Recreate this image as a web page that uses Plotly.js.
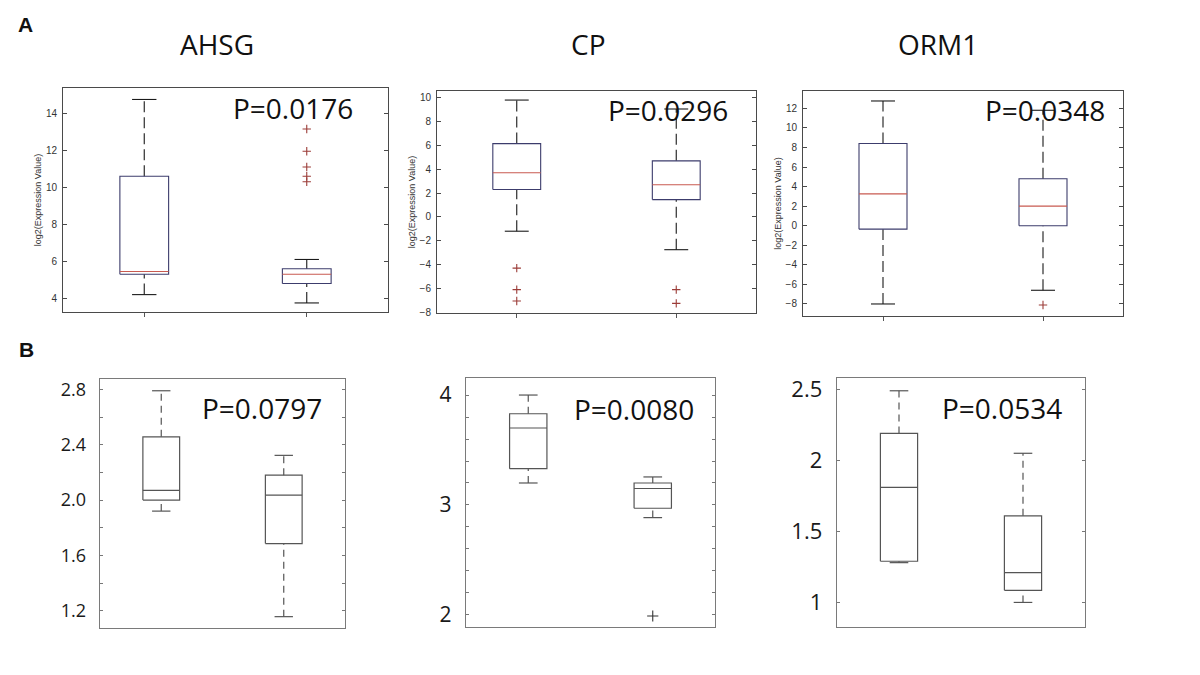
<!DOCTYPE html>
<html>
<head>
<meta charset="utf-8">
<script src="https://cdn.plot.ly/plotly-3.0.1.min.js"></script>
<style>html,body{margin:0;padding:0;background:#fff;}#chart{width:1200px;height:675px;}</style>
</head>
<body>
<div id="chart"></div>
<script>
// ---------- DATA ----------
const genes = ["AHSG", "CP", "ORM1"];
const panelLetters = ["A", "B"];
const groupPositions = [1, 2];
const pValuesA = ["P=0.0176", "P=0.0296", "P=0.0348"];
const pValuesB = ["P=0.0797", "P=0.0080", "P=0.0534"];
const yAxisTitleA = "log2(Expression Value)";

// Panel A (per gene: [group1, group2])
const aLowerWhisker = [[4.2, 3.75], [-1.2, -2.75], [-8.0, -6.6]];
const aQ1           = [[5.3, 4.8], [2.3, 1.45], [-0.35, 0.0]];
const aMedian       = [[5.45, 5.3], [3.7, 2.7], [3.25, 2.0]];
const aQ3           = [[10.6, 5.6], [6.15, 4.7], [8.4, 4.8]];
const aUpperWhisker = [[14.75, 6.1], [9.8, 9.05], [12.75, 11.8]];
const aOutliers     = [[[], [13.15, 11.95, 11.1, 10.6, 10.3]], [[-4.3, -6.1, -7.05], [-6.1, -7.25]], [[], [-8.1]]];

// Panel B (per gene: [group1, group2])
const bLowerWhisker = [[1.92, 1.157], [3.2, 2.885], [1.28, 1.0]];
const bQ1           = [[2.0, 1.685], [3.33, 2.97], [1.29, 1.085]];
const bMedian       = [[2.07, 2.035], [3.70, 3.15], [1.81, 1.21]];
const bQ3           = [[2.457, 2.18], [3.83, 3.2], [2.19, 1.61]];
const bUpperWhisker = [[2.79, 2.323], [4.0, 3.255], [2.49, 2.05]];
const bOutliers     = [[[], []], [[], [1.99]], [[], []]];

// ---------- STYLE / LAYOUT ----------
const W = 1200, H = 675;
const px = v => v / W;
const py = v => 1 - v / H;

const BOX_HALF = 0.15, CAP_HALF = 0.075;

const domainsA = [
  {x: [63, 388], y: [88, 312], range: [3.26, 15.37]},
  {x: [437, 756], y: [91, 313], range: [-8.06, 10.56]},
  {x: [803, 1123], y: [91, 316], range: [-9.23, 13.77]}
];
const domainsB = [
  {x: [100, 345], y: [379, 628], range: [1.075, 2.875], tick0: 1.2, dtick: 0.4, minor: 0.2, fmt: ".1f", fs: 18},
  {x: [466, 715], y: [378, 627], range: [1.89, 4.155], tick0: 2, dtick: 1, minor: 0.2, fmt: "", fs: 21},
  {x: [837, 1085], y: [378, 627], range: [0.827, 2.58], tick0: 1, dtick: 0.5, minor: null, fmt: "", fs: 22}
];

const traces = [];
const layout = {
  width: W, height: H,
  margin: {l: 0, r: 0, t: 0, b: 0},
  paper_bgcolor: "#ffffff",
  plot_bgcolor: "#ffffff",
  showlegend: false,
  annotations: [],
  font: {family: "Open Sans, Noto Sans, sans-serif", color: "#111"}
};

function addBoxes(axisIdx, lw, q1, med, q3, uw, outl, st) {
  const xa = "x" + (axisIdx === 1 ? "" : axisIdx);
  const ya = "y" + (axisIdx === 1 ? "" : axisIdx);
  const bx = [], by = [], mx = [], my = [], wx = [], wy = [], cx = [], cy = [], ox = [], oy = [];
  groupPositions.forEach((p, g) => {
    bx.push(p - BOX_HALF, p + BOX_HALF, p + BOX_HALF, p - BOX_HALF, p - BOX_HALF, null);
    by.push(q1[g], q1[g], q3[g], q3[g], q1[g], null);
    mx.push(p - BOX_HALF, p + BOX_HALF, null);
    my.push(med[g], med[g], null);
    wx.push(p, p, null, p, p, null);
    wy.push(q3[g], uw[g], null, lw[g], q1[g], null);
    cx.push(p - CAP_HALF, p + CAP_HALF, null, p - CAP_HALF, p + CAP_HALF, null);
    cy.push(uw[g], uw[g], null, lw[g], lw[g], null);
    outl[g].forEach(v => { ox.push(p); oy.push(v); });
  });
  traces.push({type: "scatter", mode: "lines", x: wx, y: wy, xaxis: xa, yaxis: ya,
    line: {color: st.whisker, width: st.lw, dash: st.dash}, hoverinfo: "skip"});
  traces.push({type: "scatter", mode: "lines", x: cx, y: cy, xaxis: xa, yaxis: ya,
    line: {color: st.cap, width: st.lw}, hoverinfo: "skip"});
  traces.push({type: "scatter", mode: "lines", x: bx, y: by, xaxis: xa, yaxis: ya,
    line: {color: st.box, width: st.lw}, hoverinfo: "skip"});
  traces.push({type: "scatter", mode: "lines", x: mx, y: my, xaxis: xa, yaxis: ya,
    line: {color: st.median, width: st.lw}, hoverinfo: "skip"});
  if (ox.length) {
    traces.push({type: "scatter", mode: "markers", x: ox, y: oy, xaxis: xa, yaxis: ya,
      marker: {symbol: "cross-thin-open", size: st.msize, color: st.outlier, line: {color: st.outlier, width: 1.1}},
      hoverinfo: "skip"});
  }
}

const styleA = {box: "#3c3c6c", median: "#c85a50", whisker: "#1a1a1a", cap: "#1a1a1a",
  outlier: "#9c3c38", lw: 1.1, dash: "11px,5px", msize: 6};
const styleB = {box: "#555555", median: "#555555", whisker: "#555555", cap: "#555555",
  outlier: "#333333", lw: 1.2, dash: "7px,5px", msize: 8};

genes.forEach((gene, i) => {
  const idx = i + 1;
  const d = domainsA[i];
  const k = idx === 1 ? "" : idx;
  layout["xaxis" + k] = {
    domain: [px(d.x[0]), px(d.x[1])], anchor: "y" + k, range: [0.5, 2.5],
    showgrid: false, zeroline: false, showline: true, mirror: true, linecolor: "#4a4a4a", linewidth: 1,
    tickvals: groupPositions, ticktext: ["", ""], ticks: "outside", ticklen: 4, tickcolor: "#555",
    fixedrange: true
  };
  layout["yaxis" + k] = {
    domain: [py(d.y[1]), py(d.y[0])], anchor: "x" + k, range: d.range,
    showgrid: false, zeroline: false, showline: true, mirror: "ticks", linecolor: "#4a4a4a", linewidth: 1,
    dtick: 2, tick0: 0, ticks: "inside", ticklen: 4, tickcolor: "#4a4a4a",
    tickfont: {family: "Liberation Sans, Arial, sans-serif", size: 10, color: "#333"},
    ticklabelstandoff: 3,
    title: {text: yAxisTitleA, font: {family: "Liberation Sans, Arial, sans-serif", size: 9, color: "#333"}, standoff: 2},
    fixedrange: true
  };
  addBoxes(idx, aLowerWhisker[i], aQ1[i], aMedian[i], aQ3[i], aUpperWhisker[i], aOutliers[i], styleA);
});

genes.forEach((gene, i) => {
  const idx = i + 4;
  const d = domainsB[i];
  const k = idx;
  layout["xaxis" + k] = {
    domain: [px(d.x[0]), px(d.x[1])], anchor: "y" + k, range: [0.5, 2.5],
    showgrid: false, zeroline: false, showline: true, mirror: true, linecolor: "#7a7a7a", linewidth: 1.3,
    showticklabels: false, ticks: "", fixedrange: true
  };
  const ya = {
    domain: [py(d.y[1]), py(d.y[0])], anchor: "x" + k, range: d.range,
    showgrid: false, zeroline: false, showline: true, mirror: "ticks", linecolor: "#7a7a7a", linewidth: 1.3,
    tick0: d.tick0, dtick: d.dtick, ticks: "inside", ticklen: 3, tickcolor: "#777",
    tickfont: {family: "Open Sans, Noto Sans, sans-serif", size: d.fs, color: "#1a1a1a"},
    ticklabelstandoff: 9,
    fixedrange: true
  };
  if (d.fmt) ya.tickformat = d.fmt;
  if (d.minor) ya.minor = {dtick: d.minor, tick0: d.tick0, ticks: "inside", ticklen: 3, tickcolor: "#777", showgrid: false};
  layout["yaxis" + k] = ya;
  addBoxes(idx, bLowerWhisker[i], bQ1[i], bMedian[i], bQ3[i], bUpperWhisker[i], bOutliers[i], styleB);
});

// ---------- ANNOTATIONS ----------
const titlePos = [[217, 44], [588, 44], [938, 44]];
genes.forEach((g, i) => {
  layout.annotations.push({text: g, xref: "paper", yref: "paper", x: px(titlePos[i][0]), y: py(titlePos[i][1]),
    xanchor: "center", yanchor: "middle", showarrow: false,
    font: {family: "Open Sans, Noto Sans, sans-serif", size: 28, color: "#111"}});
});
const pPosA = [[293, 108], [668, 110], [1045, 110]];
const pPosB = [[262, 408], [634, 409], [1002, 408]];
pValuesA.forEach((t, i) => {
  layout.annotations.push({text: t, xref: "paper", yref: "paper", x: px(pPosA[i][0]), y: py(pPosA[i][1]),
    xanchor: "center", yanchor: "middle", showarrow: false,
    font: {family: "Open Sans, Noto Sans, sans-serif", size: 28, color: "#111"}});
});
pValuesB.forEach((t, i) => {
  layout.annotations.push({text: t, xref: "paper", yref: "paper", x: px(pPosB[i][0]), y: py(pPosB[i][1]),
    xanchor: "center", yanchor: "middle", showarrow: false,
    font: {family: "Open Sans, Noto Sans, sans-serif", size: 28, color: "#111"}});
});
const letterPos = [[25, 25], [26, 349]];
panelLetters.forEach((t, i) => {
  layout.annotations.push({text: "<b>" + t + "</b>", xref: "paper", yref: "paper",
    x: px(letterPos[i][0]), y: py(letterPos[i][1]), xanchor: "center", yanchor: "middle", showarrow: false,
    font: {family: "Liberation Sans, Arial, sans-serif", size: 21, color: "#111"}});
});

Plotly.newPlot("chart", traces, layout, {displayModeBar: false, staticPlot: true});
</script>
</body>
</html>
